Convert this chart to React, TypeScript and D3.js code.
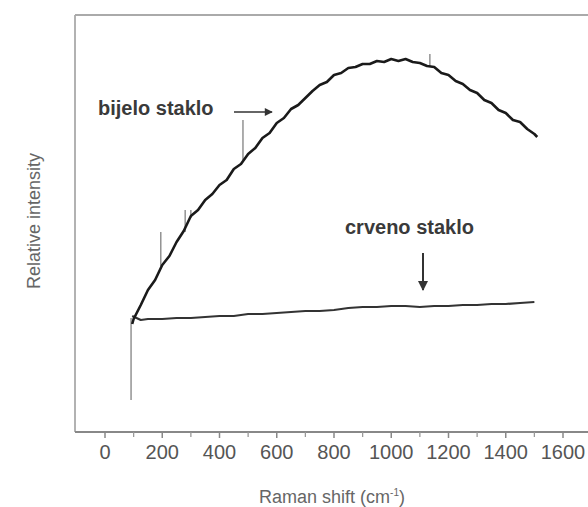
import React from 'react';
import * as d3 from 'd3';

const xTicks = [0, 200, 400, 600, 800, 1000, 1200, 1400, 1600];
const xMinorTicks = [100, 300, 500, 700, 900, 1100, 1300, 1500];

// bijelo staklo (white glass) - Raman shift vs relative intensity (arbitrary units)
const whiteShift = [95, 100, 125, 150, 175, 200, 225, 250, 275, 300, 325, 350, 375, 400, 425, 450, 475, 500, 525, 550, 575, 600, 625, 650, 675, 700, 725, 750, 775, 800, 825, 850, 875, 900, 925, 950, 975, 1000, 1025, 1050, 1075, 1100, 1125, 1150, 1175, 1200, 1225, 1250, 1275, 1300, 1325, 1350, 1375, 1400, 1425, 1450, 1475, 1500, 1510];
const whiteIntensity = [108, 113, 127, 142, 152, 167, 176, 190, 201, 216, 222, 232, 238, 247, 252, 263, 268, 278, 284, 294, 299, 309, 314, 323, 327, 334, 341, 347, 350, 357, 359, 364, 365, 368, 368, 371, 370, 373, 371, 373, 370, 369, 366, 365, 359, 357, 351, 348, 342, 339, 332, 329, 322, 319, 312, 310, 303, 298, 295];

// crveno staklo (red glass)
const redShift = [95, 110, 125, 150, 200, 250, 300, 350, 400, 450, 500, 550, 600, 650, 700, 750, 800, 850, 900, 950, 1000, 1050, 1100, 1150, 1200, 1250, 1300, 1350, 1400, 1450, 1500];
const redIntensity = [116, 114, 112, 113, 113, 114, 114, 115, 116, 116, 118, 118, 119, 120, 121, 121, 122, 124, 125, 125, 126, 126, 125, 126, 126, 127, 127, 128, 128, 129, 130];

// narrow spikes (shift, from, to)
const spikeShift = [91, 195, 280, 300, 482, 1135];
const spikeFrom = [114, 166, 200, 214, 272, 366];
const spikeTo = [32, 200, 222, 222, 312, 378];

const labelWhite = 'bijelo staklo';
const labelRed = 'crveno staklo';
const xTitle = 'Raman shift (cm';
const yTitle = 'Relative intensity';

export default function App() {
  const W = 588, H = 507;
  const x = d3.scaleLinear().domain([0, 1600]).range([105, 563]);
  const y = d3.scaleLinear().domain([0, 420]).range([432, 12]);
  const line = d3.line<[number, number]>().x(d => x(d[0])).y(d => y(d[1]));
  const whitePts = whiteShift.map((s, i) => [s, whiteIntensity[i]] as [number, number]);
  const redPts = redShift.map((s, i) => [s, redIntensity[i]] as [number, number]);
  const font = "'Liberation Sans', Arial, sans-serif";
  const axisY = 432;
  const left = 75;
  const top = 15;

  return (
    <svg width={W} height={H} style={{ position: 'absolute', left: 0, top: 0, background: '#fff' }} fontFamily={font}>
      <defs>
        <marker id="arrR" viewBox="0 0 10 10" refX="9" refY="5" markerWidth="7" markerHeight="5" orient="auto">
          <path d="M0,0 L10,5 L0,10 z" fill="#333" />
        </marker>
      </defs>
      {/* frame */}
      <line x1={left} y1={top} x2={W + 5} y2={top} stroke="#aaa" strokeWidth={1.8} />
      <line x1={left} y1={top} x2={left} y2={axisY} stroke="#aaa" strokeWidth={1.8} />
      <line x1={left} y1={axisY} x2={W + 5} y2={axisY} stroke="#888" strokeWidth={2} />
      {xTicks.map(t => (
        <g key={'t' + t}>
          <line x1={x(t)} x2={x(t)} y1={axisY} y2={axisY + 6} stroke="#888" strokeWidth={1.5} />
          <text x={x(t)} y={459} textAnchor="middle" fontSize={20} fill="#555">{t}</text>
        </g>
      ))}
      {xMinorTicks.map(t => (
        <line key={'m' + t} x1={x(t)} x2={x(t)} y1={axisY} y2={axisY + 5} stroke="#999" strokeWidth={1.3} />
      ))}
      <text x={332} y={503} textAnchor="middle" fontSize={18} fill="#666">
        {xTitle}
        <tspan dy={-7} fontSize={10}>-1</tspan>
        <tspan dy={7}>)</tspan>
      </text>
      <text transform={`translate(40,221) rotate(-90)`} textAnchor="middle" fontSize={18} fill="#666">{yTitle}</text>

      {/* spikes */}
      {spikeShift.map((s, i) => (
        <line key={'s' + i} x1={x(s)} x2={x(s)} y1={y(spikeFrom[i])} y2={y(spikeTo[i])} stroke="#777" strokeWidth={1.2} />
      ))}

      {/* curves */}
      <path d={line(redPts) || ''} fill="none" stroke="#333" strokeWidth={2.2} strokeLinejoin="round" />
      <path d={line(whitePts) || ''} fill="none" stroke="#1a1a1a" strokeWidth={2.6} strokeLinejoin="round" />

      {/* annotations */}
      <text x={98} y={115} fontSize={20} fontWeight="bold" fill="#3a3a3a">{labelWhite}</text>
      <line x1={234} y1={112} x2={272} y2={112} stroke="#333" strokeWidth={1.6} markerEnd="url(#arrR)" />
      <text x={345} y={234} fontSize={20} fontWeight="bold" fill="#3a3a3a">{labelRed}</text>
      <line x1={423} y1={253} x2={423} y2={290} stroke="#333" strokeWidth={2} markerEnd="url(#arrR)" />
    </svg>
  );
}
